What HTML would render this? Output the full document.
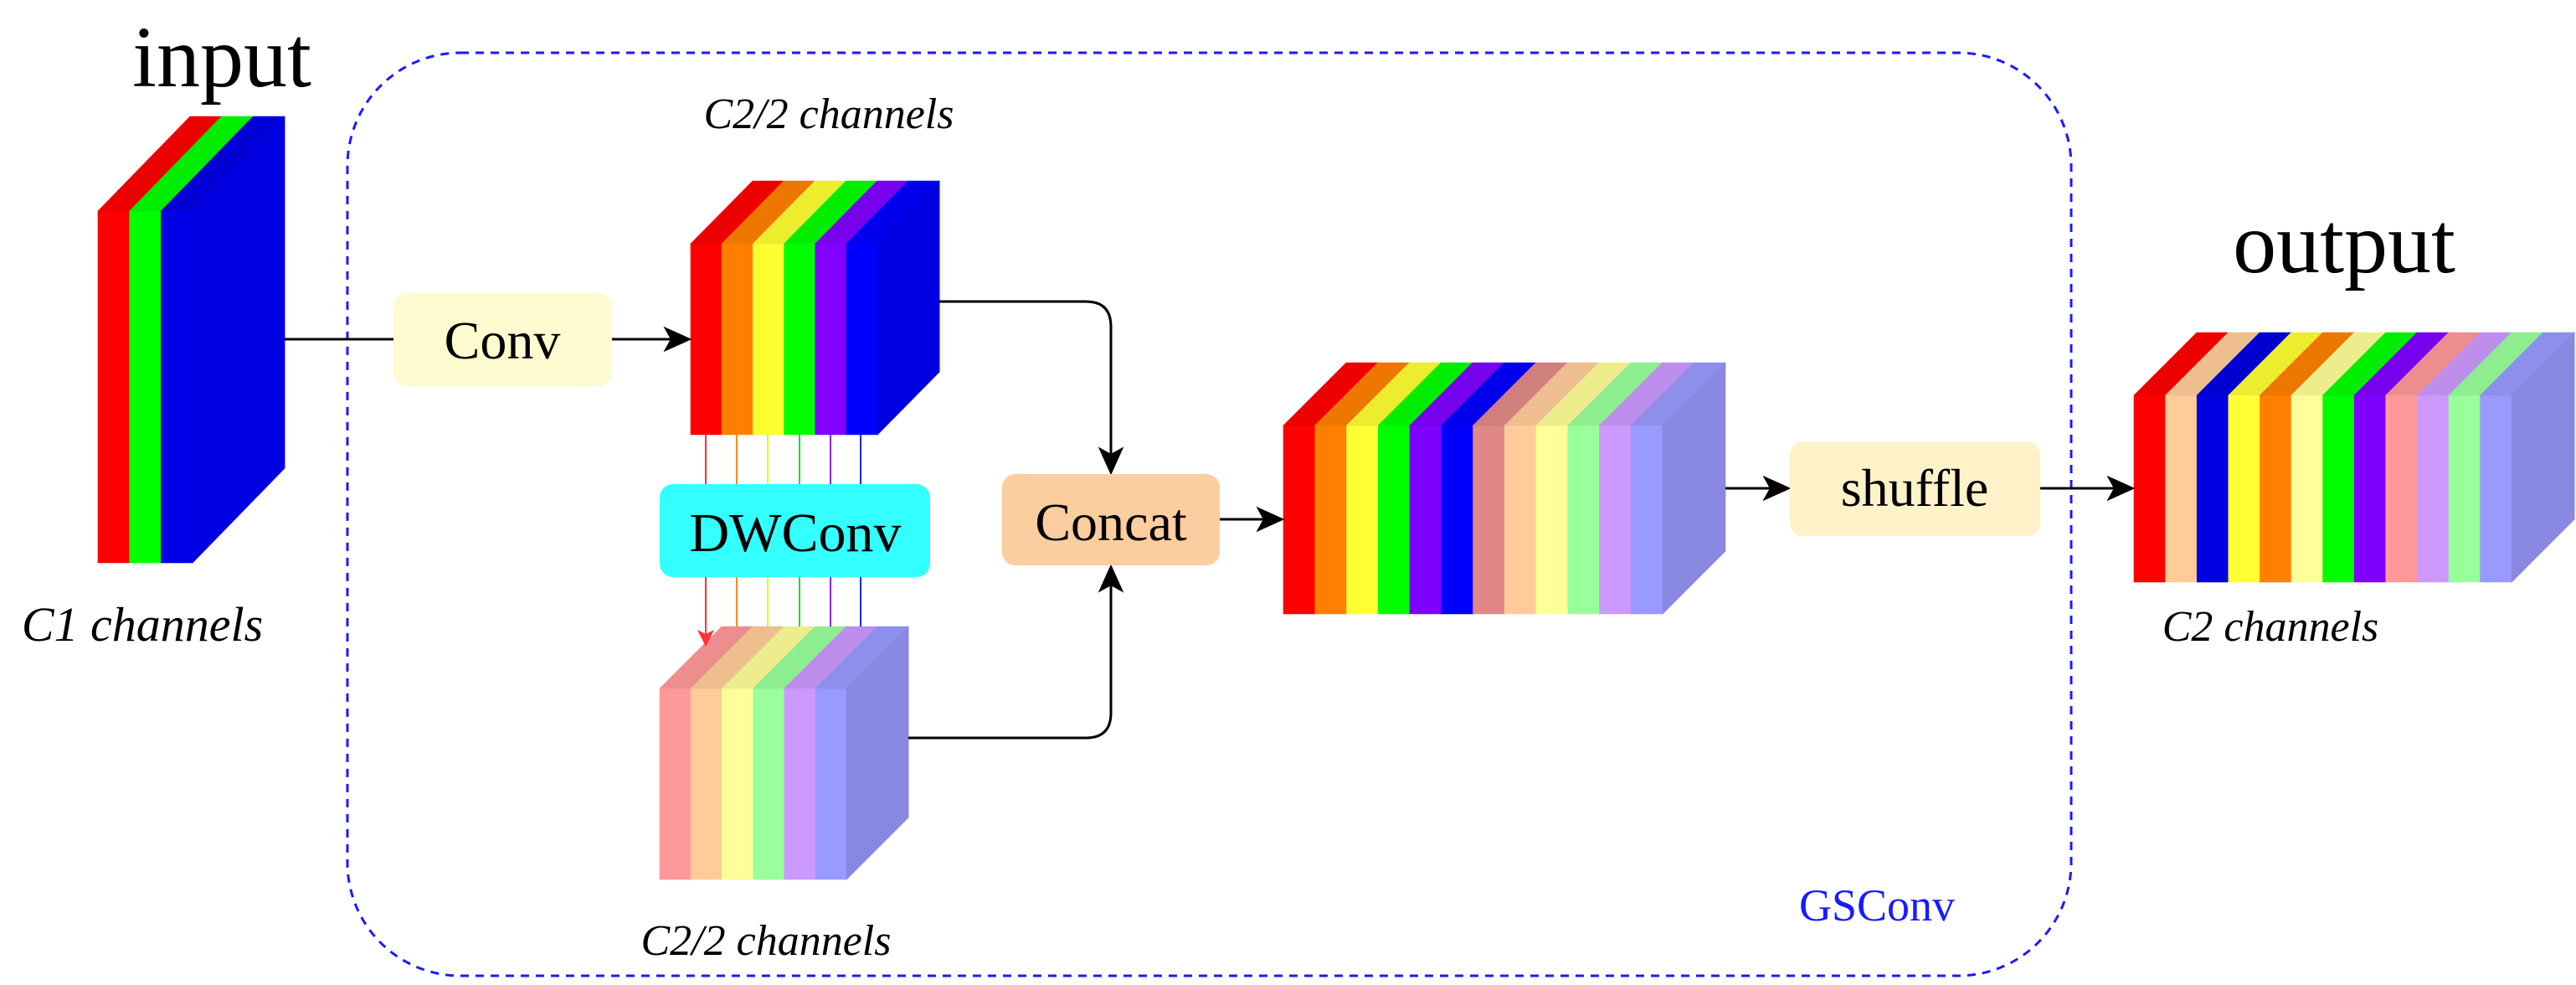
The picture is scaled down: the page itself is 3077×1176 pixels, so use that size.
<!DOCTYPE html>
<html><head><meta charset="utf-8"><style>
html,body{margin:0;padding:0;background:#fff;}
svg{display:block;}
svg text{font-family:"Liberation Serif","DejaVu Serif",serif !important;}
</style></head><body>
<svg id="s" width="3077" height="1176" viewBox="0 0 3077 1176" xmlns="http://www.w3.org/2000/svg" font-family="'Liberation Serif', 'DejaVu Serif', serif">
<defs>
<marker id="ahb" viewBox="0 0 20 20" refX="18" refY="10" markerWidth="34" markerHeight="34" markerUnits="userSpaceOnUse" orient="auto">
<path d="M0,1 L20,10 L0,19 L5,10 Z" fill="#000"/></marker>
</defs>
<rect x="415" y="63" width="2059" height="1102" rx="135" ry="135" fill="none" stroke="#1a1aff" stroke-width="3" stroke-dasharray="10,8"/>
<g id="blocks"></g>
<line x1="340" y1="405" x2="472" y2="405" stroke="#000" stroke-width="3"/>
<line x1="731" y1="405" x2="823" y2="405" stroke="#000" stroke-width="3" marker-end="url(#ahb)"/>
<path d="M1122,360 H1297 Q1327,360 1327,390 V564" fill="none" stroke="#000" stroke-width="3" marker-end="url(#ahb)"/>
<path d="M1085,881 H1297 Q1327,881 1327,851 V677" fill="none" stroke="#000" stroke-width="3" marker-end="url(#ahb)"/>
<line x1="1457" y1="620" x2="1531" y2="620" stroke="#000" stroke-width="3" marker-end="url(#ahb)"/>
<line x1="2061" y1="583" x2="2136" y2="583" stroke="#000" stroke-width="3" marker-end="url(#ahb)"/>
<line x1="2437" y1="583" x2="2547" y2="583" stroke="#000" stroke-width="3" marker-end="url(#ahb)"/>
<g stroke-width="2">
<line x1="843" y1="519" x2="843" y2="760" stroke="#ff3333"/>
<line x1="880" y1="519" x2="880" y2="748" stroke="#ff8c1a"/>
<line x1="917" y1="519" x2="917" y2="748" stroke="#f0f000"/>
<line x1="955" y1="519" x2="955" y2="748" stroke="#22dd22"/>
<line x1="992" y1="519" x2="992" y2="748" stroke="#8822ff"/>
<line x1="1028" y1="519" x2="1028" y2="748" stroke="#2222ff"/>
</g>
<path d="M833,752 L843,772 L853,752 L843,757 Z" fill="#ff3333"/>
<rect x="470" y="350" width="261" height="111" rx="16" fill="#fdfbcf"/>
<text x="600" y="428" font-family="Liberation Serif, serif" font-size="64" text-anchor="middle">Conv</text>
<rect x="788" y="578" width="323" height="111" rx="16" fill="#33ffff"/>
<text x="950" y="658" font-family="Liberation Serif, serif" font-size="66" text-anchor="middle">DWConv</text>
<rect x="1197" y="566" width="260" height="109" rx="16" fill="#fccd9e"/>
<text x="1327" y="645" font-family="Liberation Serif, serif" font-size="64" text-anchor="middle">Concat</text>
<rect x="2138" y="527" width="299" height="113" rx="16" fill="#fff2c8"/>
<text x="2287" y="604" font-family="Liberation Serif, serif" font-size="64" text-anchor="middle">shuffle</text>
<text x="265" y="103" font-family="Liberation Serif, serif" font-size="104" text-anchor="middle">input</text>
<text x="2800" y="325" font-family="Liberation Serif, serif" font-size="104" text-anchor="middle">output</text>
<text x="170" y="765" font-family="Liberation Serif, serif" font-size="58" font-style="italic" text-anchor="middle">C1 channels</text>
<text x="990" y="153" font-family="Liberation Serif, serif" font-size="52" font-style="italic" text-anchor="middle">C2/2 channels</text>
<text x="915" y="1140" font-family="Liberation Serif, serif" font-size="52" font-style="italic" text-anchor="middle">C2/2 channels</text>
<text x="2712" y="765" font-family="Liberation Serif, serif" font-size="52" font-style="italic" text-anchor="middle">C2 channels</text>
<text x="2242" y="1099" font-family="Liberation Serif, serif" font-size="54" fill="#1a1aff" text-anchor="middle">GSConv</text>
</svg>
<script>
(function(){
var g=document.getElementById('blocks'),NS='http://www.w3.org/2000/svg';
function dk(c){var n=parseInt(c.slice(1),16),r=n>>16,gg=(n>>8)&255,b=n&255;
 var f=0.93;return 'rgb('+Math.round(r*f)+','+Math.round(gg*f)+','+Math.round(b*f)+')';}
function poly(p,f){var e=document.createElementNS(NS,'polygon');e.setAttribute('points',p);e.setAttribute('fill',f);e.setAttribute('stroke',f);e.setAttribute('stroke-width','0.6');g.appendChild(e);}
function block(x0,y0,w,h,dx,dy,cols,side){
 var n=cols.length;
 for(var i=0;i<n;i++){var a=x0+i*w,b=x0+(i+1)*w;
  poly(a+','+y0+' '+b+','+y0+' '+b+','+(y0+h)+' '+a+','+(y0+h),cols[i]);
  poly(a+','+y0+' '+(a+dx)+','+(y0-dy)+' '+(b+dx)+','+(y0-dy)+' '+b+','+y0,dk(cols[i]));}
 var e=x0+n*w;
 poly(e+','+y0+' '+(e+dx)+','+(y0-dy)+' '+(e+dx)+','+(y0-dy+h)+' '+e+','+(y0+h),side);
}
var R='#ff0000',O='#ff8000',Y='#ffff33',G='#00ff00',V='#8000ff',B='#0000ff';
var pR='#ff9999',pO='#ffcc99',pY='#ffff99',pG='#99ff99',pV='#cc99ff',pB='#9999ff';
block(117,252,37.7,420,110,113,[R,G,'#0000e6'],'#0000e0');
block(825,291,37.2,228,74,75,[R,O,Y,G,V,B],'#0000e0');
block(788,822,37.2,228,74,74,[pR,pO,pY,pG,pV,pB],'#8888e0');
block(1533,508,37.75,225,75,75,[R,O,Y,G,V,B,'#e08888',pO,pY,pG,pV,pB],'#8888e0');
block(2549,472,37.6,223,75,75,[R,pO,'#0000e0',Y,O,pY,G,V,pR,pV,pG,pB],'#8888e0');
})();
</script>
</body></html>
